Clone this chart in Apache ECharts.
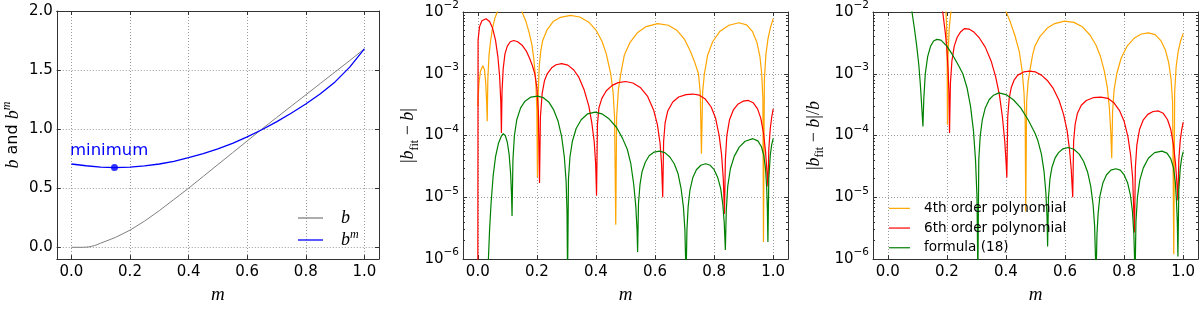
<!DOCTYPE html>
<html><head><meta charset="utf-8">
<script src="https://cdn.jsdelivr.net/npm/echarts@6/dist/echarts.min.js"></script>
<style>html,body{margin:0;padding:0;background:#fff}#c{width:1200px;height:309px}</style>
</head><body><div id="c"></div><script>
// ---------- tick labels ----------
const mTicks = [0.0, 0.2, 0.4, 0.6, 0.8, 1.0];
const bTicks = [0.0, 0.5, 1.0, 1.5, 2.0];
const logTicks = [1e-6, 1e-5, 1e-4, 1e-3, 1e-2];
const logMinorTicks = [];
for (let k = -6; k <= -3; k++) for (let d = 2; d <= 9; d++) logMinorTicks.push(d * Math.pow(10, k));

// ---------- panel 1 ----------
const mB   = [0, 0.04, 0.06, 0.08, 0.1, 0.15, 0.2, 0.25, 0.3, 0.35, 0.4, 0.45, 0.5, 0.55, 0.6, 0.65, 0.7, 0.75, 0.8, 0.85, 0.9, 0.95, 1.0];
const bVals = [0, 0, 0.003, 0.015, 0.035, 0.083, 0.145, 0.222, 0.31, 0.405, 0.5, 0.6, 0.7, 0.8, 0.9, 1.0, 1.097, 1.194, 1.29, 1.387, 1.484, 1.58, 1.68];
const mBm  = [0, 0.05, 0.1, 0.147, 0.2, 0.25, 0.3, 0.35, 0.4, 0.45, 0.5, 0.55, 0.6, 0.65, 0.7, 0.75, 0.8, 0.85, 0.9, 0.95, 1.0];
const bmVals = [0.705, 0.69, 0.679, 0.675, 0.679, 0.689, 0.705, 0.728, 0.758, 0.793, 0.833, 0.88, 0.935, 0.995, 1.062, 1.135, 1.213, 1.30, 1.40, 1.525, 1.68];
const minimumPoint = [0.147, 0.675];

// ---------- panel 2 : |b_fit - b| ----------
const abs4 = [[0,3e-4],[0.004,7e-4],[0.009,1.1e-3],[0.017,1.35e-3],[0.023,1.15e-3],[0.027,7e-4],[0.030,3.5e-4],[0.032,1.7e-4],
 [0.034,8e-4],[0.038,2e-3],[0.043,3.3e-3],[0.05,5.5e-3],[0.058,8e-3],[0.066,1.0e-2],[0.08,1.4e-2],[0.11,1.8e-2],[0.135,1.4e-2],[0.15,1.0e-2],[0.163,7e-3],[0.173,4.8e-3],[0.183,3e-3],[0.19,1.7e-3],[0.196,8e-4],[0.2,2.5e-4],[0.202,2.1e-5],
 [0.204,4e-4],[0.208,1.3e-3],[0.213,2.3e-3],[0.22,3.5e-3],[0.235,5.2e-3],[0.255,7e-3],[0.28,8.2e-3],[0.314,8.8e-3],[0.345,8.3e-3],[0.375,6.9e-3],[0.40,5.1e-3],[0.42,3.4e-3],[0.435,2.1e-3],[0.45,1.0e-3],[0.458,5e-4],[0.463,2e-4],[0.467,3.6e-6],
 [0.47,2e-4],[0.476,5.5e-4],[0.484,1.0e-3],[0.496,2.0e-3],[0.515,3.2e-3],[0.54,4.6e-3],[0.57,5.8e-3],[0.609,6.5e-3],[0.645,6.1e-3],[0.675,5e-3],[0.70,3.6e-3],[0.72,2.3e-3],[0.735,1.5e-3],[0.747,1.0e-3],[0.753,5e-4],[0.757,5.1e-5],
 [0.761,5e-4],[0.767,1.0e-3],[0.778,2e-3],[0.795,3.3e-3],[0.82,4.9e-3],[0.85,6.1e-3],[0.884,6.7e-3],[0.91,6.2e-3],[0.93,4.8e-3],[0.945,3.2e-3],[0.955,1.9e-3],[0.961,1.0e-3],[0.965,4e-4],[0.967,1.9e-6],
 [0.97,8e-4],[0.975,2e-3],[0.982,3.6e-3],[0.99,5.5e-3],[1.0,7.8e-3]];
const abs6 = [[0,1e-7],[0.001,3.5e-3],[0.006,5.8e-3],[0.014,7.2e-3],[0.028,7.8e-3],[0.04,7e-3],[0.05,5.5e-3],[0.06,3.5e-3],[0.068,1.9e-3],[0.074,9e-4],[0.078,3.5e-4],[0.080,1.1e-4],
 [0.082,5e-4],[0.086,1.2e-3],[0.092,2.1e-3],[0.10,2.8e-3],[0.11,3.3e-3],[0.122,3.45e-3],[0.135,3.3e-3],[0.15,2.9e-3],[0.165,2.3e-3],[0.175,1.8e-3],[0.185,1.35e-3],[0.193,1.0e-3],[0.2,6e-4],[0.205,2.5e-4],[0.209,1.7e-5],
 [0.212,2e-4],[0.218,4.8e-4],[0.226,7.8e-4],[0.235,1.0e-3],[0.25,1.25e-3],[0.265,1.4e-3],[0.284,1.46e-3],[0.305,1.38e-3],[0.325,1.15e-3],[0.342,8.8e-4],[0.36,5.5e-4],[0.376,3e-4],[0.386,1.6e-4],[0.394,8e-5],[0.399,3.5e-5],[0.402,1.07e-5],
 [0.405,1.5e-4],[0.41,2.8e-4],[0.42,4e-4],[0.435,5.3e-4],[0.455,6.5e-4],[0.475,7.2e-4],[0.50,7.5e-4],[0.525,7.1e-4],[0.55,6e-4],[0.575,4.3e-4],[0.595,2.6e-4],[0.608,1.5e-4],[0.617,7.5e-5],[0.622,3.5e-5],[0.626,1e-5],
 [0.629,8e-5],[0.634,1.6e-4],[0.643,2.5e-4],[0.66,3.5e-4],[0.68,4.2e-4],[0.705,4.6e-4],[0.728,4.7e-4],[0.75,4.5e-4],[0.77,3.9e-4],[0.79,2.9e-4],[0.805,1.9e-4],[0.817,1.0e-4],[0.825,5e-5],[0.831,2e-5],[0.835,5.4e-6],
 [0.838,4e-5],[0.843,1e-4],[0.852,1.8e-4],[0.865,2.6e-4],[0.88,3.2e-4],[0.898,3.6e-4],[0.916,3.7e-4],[0.932,3.4e-4],[0.947,2.7e-4],[0.958,1.9e-4],[0.967,1.1e-4],[0.974,5.5e-5],[0.979,2.5e-5],[0.982,1.5e-5],
 [0.985,6e-5],[0.99,1.3e-4],[0.995,2e-4],[1.0,2.7e-4]];
const abs18 = [[0,1e-9],[0.03,1e-7],[0.036,1e-6],[0.04,3e-6],[0.045,8e-6],[0.052,2.2e-5],[0.06,4.5e-5],[0.07,7.5e-5],[0.08,9.8e-5],[0.086,1.07e-4],[0.093,1.0e-4],[0.1,7.8e-5],[0.106,5e-5],[0.111,2.5e-5],[0.114,1.2e-5],[0.116,5e-6],
 [0.119,4e-5],[0.124,1e-4],[0.132,1.8e-4],[0.145,2.8e-4],[0.16,3.6e-4],[0.18,4.2e-4],[0.202,4.35e-4],[0.222,4.1e-4],[0.24,3.5e-4],[0.257,2.6e-4],[0.272,1.7e-4],[0.284,9.5e-5],[0.293,4.5e-5],[0.299,1.8e-5],[0.302,6e-6],[0.304,5e-7],
 [0.307,2e-5],[0.312,4.5e-5],[0.32,8e-5],[0.333,1.3e-4],[0.35,1.8e-4],[0.372,2.25e-4],[0.397,2.4e-4],[0.42,2.25e-4],[0.445,1.85e-4],[0.47,1.35e-4],[0.49,9e-5],[0.506,6e-5],[0.518,3.5e-5],[0.528,1.6e-5],[0.535,7e-6],[0.539,3e-6],[0.541,1.3e-6],
 [0.544,8e-6],[0.549,1.6e-5],[0.556,2.6e-5],[0.567,3.7e-5],[0.58,4.7e-5],[0.597,5.4e-5],[0.615,5.6e-5],[0.633,5.3e-5],[0.65,4.5e-5],[0.665,3.5e-5],[0.678,2.4e-5],[0.688,1.4e-5],[0.696,7e-6],[0.701,3e-6],[0.705,5e-7],
 [0.708,3e-6],[0.712,7e-6],[0.718,1.3e-5],[0.728,2.1e-5],[0.74,2.8e-5],[0.755,3.3e-5],[0.771,3.5e-5],[0.787,3.3e-5],[0.8,2.8e-5],[0.812,2.1e-5],[0.822,1.4e-5],[0.829,8e-6],[0.834,4e-6],[0.838,1.4e-6],
 [0.841,6e-6],[0.846,1.5e-5],[0.855,2.9e-5],[0.868,4.6e-5],[0.885,6.5e-5],[0.905,8.1e-5],[0.931,8.9e-5],[0.948,8.2e-5],[0.96,6.6e-5],[0.968,4.8e-5],[0.974,2.9e-5],[0.978,1.4e-5],[0.98,7e-6],[0.982,1.9e-6],
 [0.985,2e-5],[0.99,4.8e-5],[0.995,7.2e-5],[1.0,9e-5]];

// ---------- panel 3 : |b_fit - b| / b ----------
const rel4 = [[0,1],[0.1,0.3],[0.15,0.08],[0.18,0.03],[0.193,0.016],[0.196,1.3e-2],[0.199,6e-3],[0.201,1.5e-3],[0.202,1.5e-4],[0.204,2e-3],[0.208,5.5e-3],[0.2136,1e-2],[0.25,3e-2],[0.3,3.5e-2],[0.35,2.5e-2],[0.38,1.6e-2],
 [0.401,1.0e-2],[0.415,6.8e-3],[0.43,4.2e-3],[0.445,2.3e-3],[0.455,1.1e-3],[0.461,5e-4],[0.465,1.8e-4],[0.467,5.9e-6],
 [0.47,3.5e-4],[0.475,7.5e-4],[0.482,1.2e-3],[0.49,2e-3],[0.498,2.8e-3],[0.515,4e-3],[0.54,5.5e-3],[0.565,6.5e-3],[0.598,7.1e-3],[0.63,6.8e-3],[0.66,5.7e-3],[0.685,4.2e-3],[0.705,2.9e-3],[0.72,1.9e-3],[0.733,1.1e-3],[0.743,6e-4],[0.75,2.8e-4],[0.755,1.1e-4],[0.758,4.3e-5],
 [0.761,2.5e-4],[0.766,5.5e-4],[0.775,1.0e-3],[0.79,1.8e-3],[0.81,2.8e-3],[0.835,3.8e-3],[0.858,4.4e-3],[0.882,4.6e-3],[0.905,4.3e-3],[0.925,3.4e-3],[0.94,2.4e-3],[0.951,1.5e-3],[0.959,8e-4],[0.964,3.5e-4],[0.968,1.2e-6],
 [0.971,5e-4],[0.976,1.3e-3],[0.983,2.3e-3],[0.991,3.4e-3],[1.0,4.5e-3]];
const rel6 = [[0,1],[0.1,0.2],[0.15,0.05],[0.175,0.02],[0.186,1.0e-2],[0.195,4.5e-3],[0.2,2.5e-3],[0.204,1.2e-3],[0.207,5e-4],[0.209,1.1e-4],
 [0.212,7e-4],[0.217,1.6e-3],[0.225,2.8e-3],[0.235,3.9e-3],[0.247,4.8e-3],[0.26,5.4e-3],[0.275,5.3e-3],[0.29,4.8e-3],[0.31,3.8e-3],[0.33,2.7e-3],[0.35,1.6e-3],[0.365,9e-4],[0.378,4.5e-4],[0.388,2e-4],[0.396,8e-5],[0.4,4e-5],[0.403,2.1e-5],
 [0.406,2e-4],[0.411,4e-4],[0.418,6e-4],[0.428,8e-4],[0.44,9.5e-4],[0.46,1.07e-3],[0.48,1.1e-3],[0.5,1.07e-3],[0.52,9.5e-4],[0.54,7.8e-4],[0.56,5.8e-4],[0.58,3.7e-4],[0.595,2.2e-4],[0.607,1.2e-4],[0.615,6e-5],[0.621,2.8e-5],[0.626,1.0e-5],
 [0.629,8e-5],[0.634,1.5e-4],[0.642,2.3e-4],[0.655,3.1e-4],[0.672,3.7e-4],[0.695,4.1e-4],[0.721,4.2e-4],[0.745,4.0e-4],[0.765,3.4e-4],[0.785,2.5e-4],[0.8,1.7e-4],[0.813,9.5e-5],[0.822,4.8e-5],[0.829,2e-5],[0.835,2.7e-6],
 [0.838,3e-5],[0.843,7e-5],[0.852,1.25e-4],[0.865,1.8e-4],[0.88,2.2e-4],[0.898,2.45e-4],[0.916,2.5e-4],[0.932,2.3e-4],[0.947,1.8e-4],[0.958,1.25e-4],[0.967,7e-5],[0.974,3.5e-5],[0.979,1.6e-5],[0.982,8.9e-6],
 [0.985,4e-5],[0.99,8.5e-5],[0.995,1.25e-4],[1.0,1.65e-4]];
const rel18 = [[0,1],[0.05,0.1],[0.07,0.03],[0.082,1.0e-2],[0.09,5.5e-3],[0.098,2.8e-3],[0.105,1.4e-3],[0.11,7e-4],[0.114,3.5e-4],[0.117,2e-4],[0.119,1.4e-4],
 [0.122,4e-4],[0.127,1e-3],[0.135,1.9e-3],[0.145,2.8e-3],[0.155,3.4e-3],[0.166,3.6e-3],[0.18,3.5e-3],[0.2,2.8e-3],[0.22,2.0e-3],[0.24,1.35e-3],[0.254,1.0e-3],[0.268,6e-4],[0.28,3e-4],[0.29,1.2e-4],[0.297,4e-5],[0.302,1e-5],[0.305,5e-7],
 [0.308,4e-5],[0.313,1e-4],[0.32,1.8e-4],[0.33,2.8e-4],[0.343,3.8e-4],[0.358,4.5e-4],[0.376,4.9e-4],[0.4,4.6e-4],[0.425,3.8e-4],[0.45,2.8e-4],[0.475,1.8e-4],[0.498,1.1e-4],[0.508,8.3e-5],[0.52,5e-5],[0.529,2.6e-5],[0.535,1.2e-5],[0.539,5e-6],[0.541,1.6e-6],
 [0.544,1e-5],[0.549,2e-5],[0.556,3.1e-5],[0.566,4.3e-5],[0.578,5.3e-5],[0.593,6.1e-5],[0.611,6.4e-5],[0.63,6.0e-5],[0.648,5.0e-5],[0.663,3.8e-5],[0.676,2.6e-5],[0.687,1.5e-5],[0.695,7.5e-6],[0.7,3.5e-6],[0.705,5e-7],
 [0.708,2.5e-6],[0.712,5.5e-6],[0.718,1.05e-5],[0.728,1.7e-5],[0.74,2.3e-5],[0.755,2.75e-5],[0.772,2.9e-5],[0.787,2.75e-5],[0.8,2.3e-5],[0.812,1.7e-5],[0.821,1.1e-5],[0.828,6e-6],[0.833,2.5e-6],[0.837,5e-7],
 [0.84,4e-6],[0.845,1e-5],[0.853,1.9e-5],[0.865,3e-5],[0.882,4.3e-5],[0.903,5.3e-5],[0.928,5.6e-5],[0.945,5.2e-5],[0.958,4.2e-5],[0.967,3e-5],[0.973,1.8e-5],[0.977,9e-6],[0.98,4e-6],[0.982,1.1e-6],
 [0.985,1.3e-5],[0.99,3e-5],[0.995,4.4e-5],[1.0,5.5e-5]];

const fitNames = ['4th order polynomial', '6th order polynomial', 'formula (18)'];
const fitColors = ['#FFA500', '#FF0000', '#008000'];

// ---------- chart ----------
const FRAME = '#333';
const SANS = 'DejaVu Sans';
const SERIF = 'Liberation Serif';
const grids = [
  { left: 54,  top: 11, width: 325, height: 254 },
  { left: 463, top: 11, width: 325, height: 254 },
  { left: 873, top: 11, width: 325, height: 254 }
];
const gridLine = { show: true, lineStyle: { color: '#9a9a9a', type: [1, 2], width: 1 } };
const nameRich = {
  i: { fontFamily: SERIF, fontStyle: 'italic', fontSize: 18, color: '#000', lineHeight: 24 },
  s: { fontFamily: SANS, fontSize: 16, color: '#000', lineHeight: 24 },
  r: { fontFamily: SERIF, fontSize: 18, color: '#000', lineHeight: 24 },
  sup: { fontFamily: SERIF, fontStyle: 'italic', fontSize: 12, color: '#000', verticalAlign: 'top', lineHeight: 12 },
  sub: { fontFamily: SERIF, fontSize: 12, color: '#000', verticalAlign: 'bottom', lineHeight: 12 }
};

const xAxis = [], yAxis = [];
grids.forEach((g, gi) => {
  xAxis.push({
    gridIndex: gi, type: 'value', min: -0.05, max: 1.05, position: 'bottom',
    axisLine: { show: true, onZero: false, lineStyle: { color: FRAME, width: 1 } },
    axisTick: { show: true, inside: true, length: 4, customValues: mTicks, lineStyle: { color: FRAME } },
    axisLabel: { customValues: mTicks, formatter: v => v.toFixed(1), fontSize: 15, color: '#000', margin: 6, fontFamily: SANS },
    splitLine: gridLine,
    name: 'm', nameLocation: 'middle', nameGap: 16,
    nameTextStyle: { fontFamily: SERIF, fontStyle: 'italic', fontSize: 19, color: '#000' }
  });
  xAxis.push({
    gridIndex: gi, type: 'value', min: -0.05, max: 1.05, position: 'top',
    axisLine: { show: true, onZero: false, lineStyle: { color: FRAME, width: 1 } },
    axisTick: { show: true, inside: true, length: 4, customValues: mTicks, lineStyle: { color: FRAME } },
    axisLabel: { show: false }, splitLine: { show: false }
  });
});

// panel 1 y axes
yAxis.push({
  gridIndex: 0, type: 'value', min: -0.1, max: 2.0, position: 'left',
  axisLine: { show: true, onZero: false, lineStyle: { color: FRAME, width: 1 } },
  axisTick: { show: true, inside: true, length: 4, customValues: bTicks, lineStyle: { color: FRAME } },
  axisLabel: { customValues: bTicks, formatter: v => v.toFixed(1), fontSize: 15, color: '#000', margin: 4, fontFamily: SANS },
  splitLine: gridLine,
  name: '{i|b}{s| and }{i|b}{sup|m}', nameLocation: 'middle', nameGap: 30, nameRotate: 90,
  nameTextStyle: { rich: nameRich, lineHeight: 24 }
});
yAxis.push({
  gridIndex: 0, type: 'value', min: -0.1, max: 2.0, position: 'right',
  axisLine: { show: true, onZero: false, lineStyle: { color: FRAME, width: 1 } },
  axisTick: { show: true, inside: true, length: 4, customValues: bTicks, lineStyle: { color: FRAME } },
  axisLabel: { show: false }, splitLine: { show: false }
});
const logNames = ['{r||}{i|b}{sub|fit}{r| − }{i|b}{r||}', '{r||}{i|b}{sub|fit}{r| − }{i|b}{r||/}{i|b}'];
const logGaps = [38, 47];
[1, 2].forEach((gi, k) => {
  const base = { gridIndex: gi, type: 'log', logBase: 10, min: 1e-6, max: 1e-2 };
  yAxis.push(Object.assign({}, base, {
    position: 'left',
    axisLine: { show: true, onZero: false, lineStyle: { color: FRAME, width: 1 } },
    axisTick: { show: true, inside: true, length: 4, customValues: logTicks, lineStyle: { color: FRAME } },
    axisLabel: {
      customValues: logTicks, fontSize: 15, color: '#000', margin: 4, fontFamily: SANS, lineHeight: 24,
      formatter: v => '10{sup|' + String(Math.round(Math.log10(v))).replace('-', '\u2212') + '}',
      rich: { sup: { fontSize: 10.5, fontFamily: SANS, color: '#000', verticalAlign: 'top', lineHeight: 10 } }
    },
    splitLine: gridLine,
    name: logNames[k], nameLocation: 'middle', nameGap: logGaps[k], nameRotate: 90,
    nameTextStyle: { rich: nameRich, lineHeight: 24, fontFamily: SERIF, fontSize: 18 }
  }));
  yAxis.push(Object.assign({}, base, {
    position: 'right',
    axisLine: { show: true, onZero: false, lineStyle: { color: FRAME, width: 1 } },
    axisTick: { show: true, inside: true, length: 4, customValues: logTicks, lineStyle: { color: FRAME } },
    axisLabel: { show: false }, splitLine: { show: false }
  }));
  ['left', 'right'].forEach(pos => yAxis.push(Object.assign({}, base, {
    position: pos,
    axisLine: { show: false, onZero: false },
    axisTick: { show: true, inside: true, length: 2, customValues: logMinorTicks, lineStyle: { color: FRAME } },
    axisLabel: { show: false }, splitLine: { show: false }
  })));
});
// y axis indices: panel1 left=0, panel2 left=2, panel3 left=6

const lineS = (name, data, color, xi, yi, w) => ({
  name, type: 'line', data, xAxisIndex: xi, yAxisIndex: yi,
  showSymbol: false, symbol: 'none', clip: true, silent: true,
  lineStyle: { color, width: w || 1.2 }, itemStyle: { color }
});

const series = [
  lineS('b', mB.map((m, i) => [m, bVals[i]]), '#808080', 0, 0, 1),
  lineS('bm', mBm.map((m, i) => [m, bmVals[i]]), '#0000FF', 0, 0, 1.3),
  { type: 'scatter', xAxisIndex: 0, yAxisIndex: 0, data: [minimumPoint], symbolSize: 7,
    itemStyle: { color: '#0000FF' }, silent: true },
  lineS(fitNames[0], abs4, fitColors[0], 2, 2),
  lineS(fitNames[1], abs6, fitColors[1], 2, 2),
  lineS(fitNames[2], abs18, fitColors[2], 2, 2),
  lineS(fitNames[0], rel4, fitColors[0], 4, 6),
  lineS(fitNames[1], rel6, fitColors[1], 4, 6),
  lineS(fitNames[2], rel18, fitColors[2], 4, 6)
];

const chart = echarts.init(document.getElementById('c'), null, { renderer: 'canvas' });
chart.setOption({
  animation: false,
  backgroundColor: '#fff',
  grid: grids,
  xAxis, yAxis, series,
  legend: [
    {
      data: ['b', 'bm'], orient: 'vertical', left: 298, top: 207, padding: 0,
      icon: 'rect', itemWidth: 25, itemHeight: 1.3, itemGap: 0,
      selectedMode: false,
      formatter: n => n === 'b' ? '{i|b}' : '{i|b}{sup|m}',
      textStyle: { padding: [0, 0, 0, 13], lineHeight: 22, rich: {
        i: { fontFamily: SERIF, fontStyle: 'italic', fontSize: 18, color: '#000', lineHeight: 22 },
        sup: { fontFamily: SERIF, fontStyle: 'italic', fontSize: 12, color: '#000', verticalAlign: 'top', lineHeight: 12 } } }
    },
    {
      data: fitNames, orient: 'vertical', left: 889, top: 198.5, padding: 0,
      icon: 'rect', itemWidth: 21, itemHeight: 1.2, itemGap: 0,
      selectedMode: false,
      textStyle: { fontFamily: SANS, fontSize: 13.6, color: '#000', lineHeight: 19.7, padding: [0, 0, 0, 9] }
    }
  ],
  graphic: [{
    type: 'text', left: 70, top: 142,
    style: { text: 'minimum', fontFamily: SANS, fontSize: 16.5, fill: '#0000FF' }
  }]
});
</script></body></html>
